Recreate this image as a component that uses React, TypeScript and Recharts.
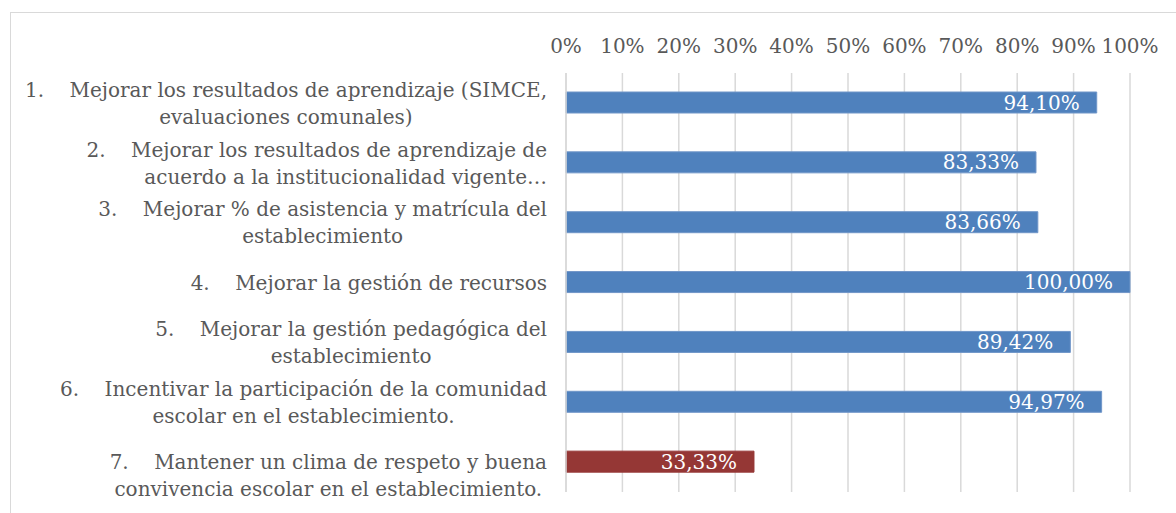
import React from "react";
import { BarChart, Bar, XAxis, YAxis, CartesianGrid, Cell, LabelList } from "recharts";

const CATEGORIES = [
  "1.\tMejorar los resultados de aprendizaje (SIMCE,\nevaluaciones comunales)",
  "2.\tMejorar los resultados de aprendizaje de\nacuerdo a la institucionalidad vigente…",
  "3.\tMejorar % de asistencia y matrícula del\nestablecimiento",
  "4.\tMejorar la gestión de recursos",
  "5.\tMejorar la gestión pedagógica del\nestablecimiento",
  "6.\tIncentivar la participación de la comunidad\nescolar en el establecimiento.",
  "\n7.\tMantener un clima de respeto y buena\nconvivencia escolar en el establecimiento.",
];
const VALUES = [0.941, 0.8333, 0.8366, 1.0, 0.8942, 0.9497, 0.3333];
const X_TICKS = [0, 0.1, 0.2, 0.3, 0.4, 0.5, 0.6, 0.7, 0.8, 0.9, 1.0];
const X_TICK_LABELS = ["0%", "10%", "20%", "30%", "40%", "50%", "60%", "70%", "80%", "90%", "100%"];

const data = CATEGORIES.map((name, i) => ({ name, value: VALUES[i] }));

const FONT = "'DejaVu Serif', serif";
const FONT_SIZE = 20;
const TEXT_COLOR = "#595959";
const BLUE = "#4F81BD";
const RED = "#953735";
const NBSP_TAB = "\u00a0\u00a0\u00a0\u00a0";
const RIGHT_ALIGNED_SECOND = new Set([1]);

let ctx: CanvasRenderingContext2D | null = null;
function measure(t: string): number {
  if (!ctx) {
    const c = document.createElement("canvas");
    ctx = c.getContext("2d");
  }
  if (!ctx) return t.length * 10;
  ctx.font = `${FONT_SIZE}px 'DejaVu Serif'`;
  return ctx.measureText(t).width;
}

const CategoryTick = (props: any) => {
  const { x, y, payload, index } = props;
  const lines: string[] = String(payload.value)
    .split("\n")
    .map((s: string) => s.replace("\t", NBSP_TAB));
  const n = lines.length;
  const L = 27;
  const C = 14.6;
  const first = y - ((n - 1) * L) / 2 + C / 2;
  const firstIdx = lines.findIndex((l) => l.length > 0);
  const w1 = measure(lines[firstIdx]);
  const idx = typeof index === "number" ? index : payload.index;
  return (
    <g>
      {lines.map((ln, i) => {
        if (!ln) return null;
        let anchor: "end" | "middle" = "end";
        let tx = x;
        if (i !== firstIdx && !RIGHT_ALIGNED_SECOND.has(idx)) {
          anchor = "middle";
          tx = x - w1 / 2;
        }
        return (
          <text
            key={i}
            x={tx}
            y={first + i * L}
            textAnchor={anchor}
            fill={TEXT_COLOR}
            fontSize={FONT_SIZE}
            fontFamily={FONT}
          >
            {ln}
          </text>
        );
      })}
    </g>
  );
};

export default function App() {
  return (
    <div
      style={{
        position: "absolute",
        left: 0,
        top: 0,
        width: 1176,
        height: 513,
        overflow: "hidden",
        background: "#fff",
        fontFamily: FONT,
      }}
    >
      <div
        style={{
          position: "absolute",
          left: 10,
          top: 12,
          width: 1200,
          height: 600,
          border: "1px solid #D9D9D9",
        }}
      />
      <div style={{ position: "absolute", left: 0, top: 0 }}>
        <BarChart
          width={1176}
          height={513}
          data={data}
          layout="vertical"
          margin={{ top: 43, right: 46, bottom: 21, left: 0 }}
          barCategoryGap={0}
        >
          <CartesianGrid horizontal={false} vertical={true} stroke="#D9D9D9" strokeWidth={1.5} />
          <XAxis
            type="number"
            orientation="top"
            domain={[0, 1]}
            ticks={X_TICKS}
            tickFormatter={(v: number) => X_TICK_LABELS[X_TICKS.indexOf(v)] ?? ""}
            axisLine={false}
            tickLine={false}
            tickSize={0}
            tickMargin={20}
            height={30}
            interval={0}
            tick={{ fill: TEXT_COLOR, fontSize: FONT_SIZE, fontFamily: FONT }}
          />
          <YAxis
            type="category"
            dataKey="name"
            width={566}
            axisLine={{ stroke: "#D9D9D9", strokeWidth: 1.5 }}
            tickLine={false}
            tickSize={0}
            tickMargin={19}
            interval={0}
            tick={<CategoryTick />}
          />
          <Bar dataKey="value" barSize={21} isAnimationActive={false} stroke="#7096C8" strokeWidth={1}>
            {data.map((d, i) => (
              <Cell key={i} fill={i === data.length - 1 ? RED : BLUE} stroke={i === data.length - 1 ? RED : "#7096C8"} />
            ))}
            <LabelList
              dataKey="value"
              position="insideRight"
              offset={17}
              fill="#FFFFFF"
              fontSize={FONT_SIZE}
              fontFamily={FONT}
              formatter={(v: any) => (Number(v) * 100).toFixed(2).replace(".", ",") + "%"}
            />
          </Bar>
        </BarChart>
      </div>
    </div>
  );
}
